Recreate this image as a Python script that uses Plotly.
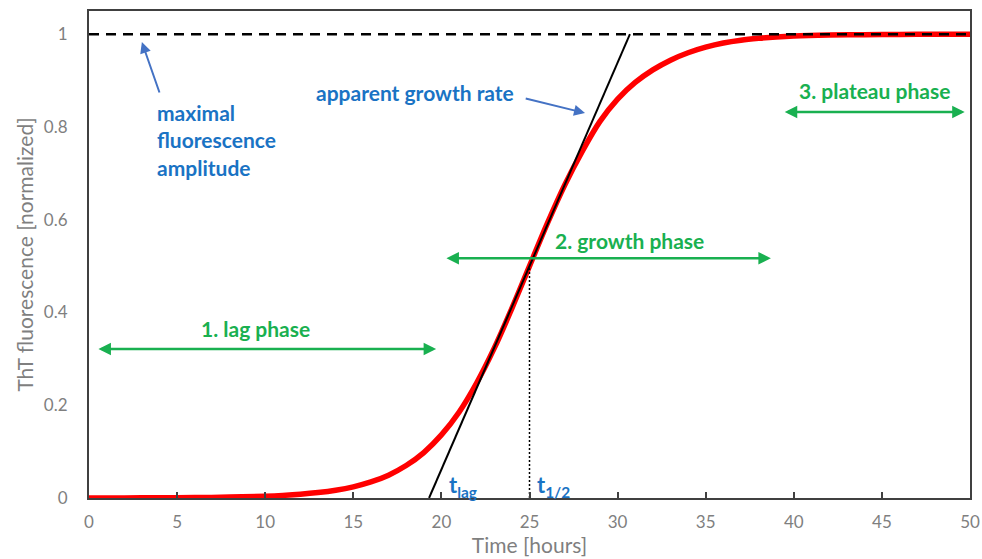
import plotly.graph_objects as go

# Normalized ThT fluorescence readings over time
time_h = [0, 2, 4, 6, 8, 10, 11, 12, 13, 14, 15, 16, 17, 18, 19, 20, 21, 22, 23, 24,
          25, 26, 27, 28, 29, 30, 31, 32, 33, 34, 35, 36, 37, 38, 39, 40, 42, 44, 46, 48, 50]
fluor = [0.0001, 0.0002, 0.0004, 0.0009, 0.0019, 0.0039, 0.0056, 0.0081, 0.0117, 0.0168,
         0.0241, 0.0346, 0.0493, 0.070, 0.098, 0.136, 0.185, 0.248, 0.323, 0.409,
         0.500, 0.591, 0.675, 0.748, 0.812, 0.860, 0.896, 0.923, 0.944, 0.960,
         0.972, 0.981, 0.987, 0.991, 0.994, 0.996, 0.998, 0.999, 0.9996, 0.9999, 1.0]

# Tangent at the midpoint (apparent growth rate)
tangent_t = [19.3, 30.7]
tangent_v = [0.0, 1.0]

# Maximal amplitude and half-time
max_amp = 1.0
t_half = 25.0
v_half = 0.5

x_ticks = [0, 5, 10, 15, 20, 25, 30, 35, 40, 45, 50]
y_ticks = [0, 0.2, 0.4, 0.6, 0.8, 1.0]
y_tick_text = ["0", "0.2", "0.4", "0.6", "0.8", "1"]

FONT = "Lato"
GREY = "#7f7f7f"
BLUE_TXT = "#1a73c4"
BLUE_ARW = "#4472C4"
GREEN = "#19b050"
LABEL_SIZE = 21

fig = go.Figure()

fig.add_trace(go.Scatter(x=time_h, y=fluor, mode="lines", line=dict(color="#ff0000", width=5.5, shape="spline"),
                         hoverinfo="skip"))
fig.add_trace(go.Scatter(x=[0, 50], y=[max_amp, max_amp], mode="lines",
                         line=dict(color="black", width=2.5, dash="10px,7px"), hoverinfo="skip"))
fig.add_trace(go.Scatter(x=tangent_t, y=tangent_v, mode="lines", line=dict(color="black", width=2),
                         hoverinfo="skip"))
fig.add_trace(go.Scatter(x=[t_half, t_half], y=[0, v_half], mode="lines",
                         line=dict(color="black", width=1.5, dash="2px,2px"), hoverinfo="skip"))

annotations = []

def text(x, y, s, color, size=LABEL_SIZE, xanchor="center", align="center"):
    annotations.append(dict(x=x, y=y, xref="x", yref="y", text=s, showarrow=False,
                            font=dict(family=FONT, size=size, color=color),
                            xanchor=xanchor, yanchor="middle", align=align))

def arrow(x0, y0, x1, y1, color, both=False, width=2.5, size=1.0):
    annotations.append(dict(x=x1, y=y1, ax=x0, ay=y0, xref="x", yref="y", axref="x", ayref="y",
                            text="", showarrow=True, arrowhead=2, arrowsize=size,
                            arrowwidth=width, arrowcolor=color,
                            arrowside="end+start" if both else "end"))

# Phase labels and spans
text(9.45, 0.366, "<b>1. lag phase</b>", GREEN)
arrow(0.45, 0.321, 19.7, 0.321, GREEN, both=True)
text(30.7, 0.556, "<b>2. growth phase</b>", GREEN)
arrow(20.2, 0.517, 38.7, 0.517, GREEN, both=True)
text(44.6, 0.879, "<b>3. plateau phase</b>", GREEN)
arrow(39.4, 0.832, 49.7, 0.832, GREEN, both=True)

# Explanatory labels
text(3.75, 0.772, "<b>maximal<br>fluorescence<br>amplitude</b>", BLUE_TXT, xanchor="left", align="left")
arrow(4.03, 0.871, 3.0, 0.983, BLUE_ARW, width=2, size=1.1)
text(18.5, 0.875, "<b>apparent growth rate</b>", BLUE_TXT)
arrow(24.7, 0.862, 28.15, 0.830, BLUE_ARW, width=2, size=1.1)
text(20.3, 0.026, "<b>t<sub>lag</sub></b>", BLUE_TXT, size=22, xanchor="left")
text(25.3, 0.026, "<b>t<sub>1/2</sub></b>", BLUE_TXT, size=22, xanchor="left")

fig.update_layout(
    width=982, height=559,
    margin=dict(l=89, r=12, t=11, b=61),
    paper_bgcolor="white", plot_bgcolor="white",
    showlegend=False,
    annotations=annotations,
    font=dict(family=FONT, color=GREY),
    xaxis=dict(range=[0, 50], tickvals=x_ticks, ticks="inside", ticklen=6, tickwidth=1.5,
               tickcolor="#404040", showgrid=False, zeroline=False, automargin=False,
               showline=True, linecolor="#404040", linewidth=2, mirror=True,
               ticklabelstandoff=8,
               tickfont=dict(family=FONT, size=17, color=GREY),
               title=dict(text="Time [hours]", font=dict(family=FONT, size=21, color=GREY), standoff=4)),
    yaxis=dict(range=[0, 1.05], tickvals=y_ticks, ticktext=y_tick_text, ticks="",
               showgrid=False, zeroline=False, automargin=False,
               showline=True, linecolor="#404040", linewidth=2, mirror=True,
               ticklabelstandoff=16,
               tickfont=dict(family=FONT, size=17, color=GREY),
               title=dict(text="ThT fluorescence [normalized]", font=dict(family=FONT, size=21, color=GREY),
                          standoff=5)),
)

fig.write_html("out.html")
